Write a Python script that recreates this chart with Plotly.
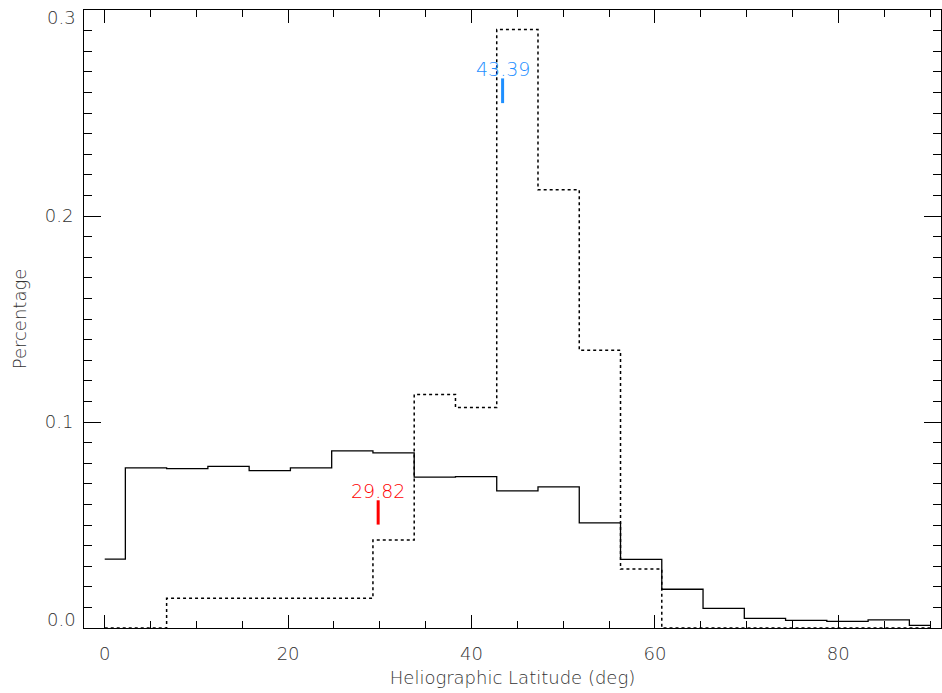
import plotly.graph_objects as go

# bin centres (deg), histogram drawn IDL psym=10 style
lat_centres = [0, 4.5, 9, 13.5, 18, 22.5, 27, 31.5, 36, 40.5, 45,
               49.5, 54, 58.5, 63, 67.5, 72, 76.5, 81, 85.5, 90]
pct_solid = [0.0334, 0.0777, 0.0774, 0.0785, 0.0764, 0.0777, 0.0860, 0.0850,
             0.0732, 0.0735, 0.0666, 0.0685, 0.0510, 0.0333, 0.0188, 0.0095,
             0.0047, 0.0037, 0.0032, 0.0039, 0.0013]
pct_dotted = [0.0, 0.0, 0.0144, 0.0144, 0.0144, 0.0144, 0.0144, 0.0427,
              0.1134, 0.1070, 0.2905, 0.2127, 0.1348, 0.0286, 0.0, 0.0,
              0.0, 0.0, 0.0, 0.0, 0.0]
y_ticks = [0.0, 0.1, 0.2, 0.3]

mean_solid = 29.82
mean_solid_y = [0.0502, 0.0620]
mean_dotted = 43.39
mean_dotted_y = [0.2548, 0.2668]

red = "#ff0000"
blue = "#1e8fff"
font = dict(family="DejaVu Sans", size=18, color="#333", weight=200)

fig = go.Figure()
fig.add_trace(go.Scatter(x=lat_centres, y=pct_solid, mode="lines", line_shape="hvh",
                         line=dict(color="black", width=1.3)))
fig.add_trace(go.Scatter(x=lat_centres, y=pct_dotted, mode="lines", line_shape="hvh",
                         line=dict(color="black", width=1.5, dash="dot")))
fig.add_trace(go.Scatter(x=[mean_solid, mean_solid], y=mean_solid_y, mode="lines",
                         line=dict(color=red, width=3)))
fig.add_trace(go.Scatter(x=[mean_dotted, mean_dotted], y=mean_dotted_y, mode="lines",
                         line=dict(color=blue, width=3)))

fig.add_annotation(x=mean_solid, y=mean_solid_y[1], text=f"{mean_solid:.2f}", showarrow=False,
                   yanchor="bottom", yshift=-4,
                   font=dict(family="DejaVu Sans", size=19, color=red, weight=200))
fig.add_annotation(x=mean_dotted, y=mean_dotted_y[1], text=f"{mean_dotted:.2f}", showarrow=False,
                   yanchor="bottom", yshift=-4,
                   font=dict(family="DejaVu Sans", size=19, color=blue, weight=200))

# IDL keeps the end labels inside the axis span
fig.add_annotation(x=0, xref="paper", y=y_ticks[0], text=f"{y_ticks[0]:.1f}", showarrow=False,
                   xanchor="right", xshift=-6, yanchor="bottom", yshift=-4, font=font)
fig.add_annotation(x=0, xref="paper", y=y_ticks[-1], text=f"{y_ticks[-1]:.1f}", showarrow=False,
                   xanchor="right", xshift=-6, yanchor="top", yshift=5, font=font)

axis_common = dict(showgrid=False, zeroline=False, showline=True, linecolor="black",
                   linewidth=1, mirror="allticks", ticks="inside", tickcolor="black",
                   tickfont=font, title_font=font, automargin=False,
                   ticklabeloverflow="allow")

fig.update_xaxes(range=[-2.26, 91.2], tick0=0, dtick=20, ticklen=13, ticklabelstandoff=9,
                 minor=dict(ticks="inside", dtick=5, ticklen=7, tickcolor="black"),
                 title_text="Heliographic Latitude (deg)", title_standoff=8, **axis_common)
fig.update_yaxes(range=[0, 0.3], tickvals=y_ticks,
                 ticktext=[""] + [f"{v:.1f}" for v in y_ticks[1:-1]] + [""],
                 ticklen=17, ticklabelstandoff=6,
                 minor=dict(ticks="inside", dtick=0.01, ticklen=8, tickcolor="black"),
                 title_text="Percentage", title_standoff=13, **axis_common)

fig.update_layout(width=942, height=693, showlegend=False,
                  plot_bgcolor="white", paper_bgcolor="white",
                  margin=dict(l=84, r=1, t=10, b=65))

# drop the default 8px page margin so the figure fills the window exactly
fig.write_html("out.html", config={"displayModeBar": False},
               post_script="document.body.style.margin='0';document.body.style.overflow='hidden';")
